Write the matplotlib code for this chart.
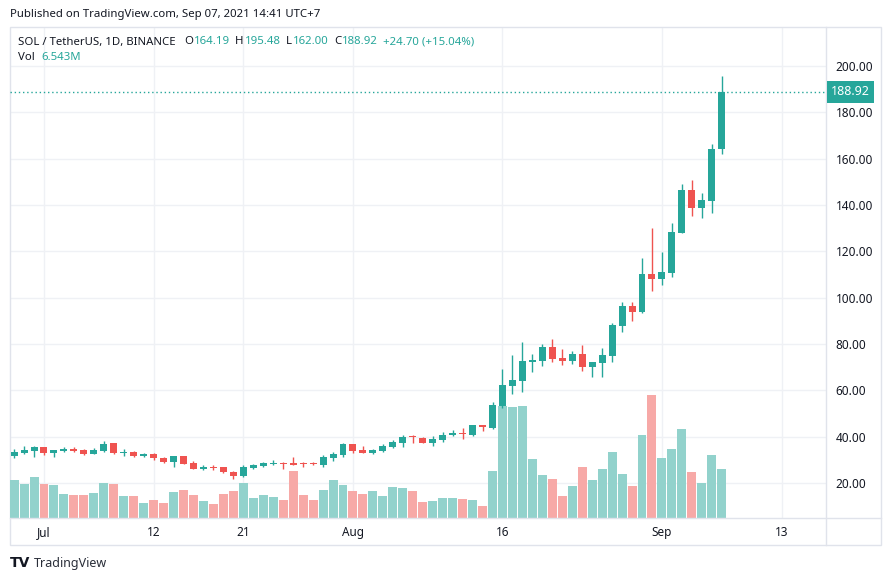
import numpy as np
import pandas as pd
import matplotlib
matplotlib.use("Agg")
import matplotlib.pyplot as plt
import matplotlib.dates as mdates
import matplotlib.transforms as mtransforms
from matplotlib.lines import Line2D
from matplotlib.patches import Rectangle

plt.rcParams['font.family'] = ['Noto Sans', 'DejaVu Sans']

# SOL / USDT daily candles, Jun 28 - Sep 07 2021
dates = pd.date_range("2021-06-28", "2021-09-07", freq="D")
opens = [31.75, 33.0, 33.9, 35.5, 32.9, 33.8, 34.6, 34.2, 32.6, 33.9,
         37.1, 33.1, 33.3, 31.6, 32.5, 30.7, 29.2, 31.6, 28.4, 26.0,
         26.9, 26.7, 24.8, 23.0, 26.6, 27.4, 28.2, 28.7, 28.7, 28.6,
         28.5, 27.7, 30.9, 32.0, 36.8, 34.2, 33.0, 33.9, 35.6, 37.3,
         39.95, 39.4, 37.3, 38.5, 40.5, 41.7, 40.7, 45.0, 43.8, 53.2,
         62.0, 64.1, 72.3, 72.8, 78.7, 73.9, 72.8, 75.6, 70.2, 71.9,
         74.9, 87.9, 96.4, 93.9, 110.2, 108.0, 110.6, 127.9, 146.5, 138.8,
         141.7, 164.19]
highs = [34.6, 35.9, 36.1, 35.6, 34.3, 35.3, 35.3, 34.5, 34.9, 38.1,
         37.4, 34.6, 33.9, 32.9, 32.8, 31.3, 31.7, 31.7, 29.4, 27.7,
         27.7, 26.8, 25.3, 27.7, 28.1, 29.2, 29.9, 28.8, 31.3, 29.2,
         29.2, 32.0, 33.3, 37.4, 36.9, 35.9, 34.6, 36.8, 38.5, 40.7,
         40.7, 39.7, 40.2, 41.8, 42.8, 43.6, 45.1, 45.1, 55.1, 69.2,
         75.2, 80.8, 75.6, 80.0, 82.1, 77.8, 76.9, 79.7, 72.4, 78.4,
         88.9, 98.1, 98.2, 117.1, 130.0, 119.7, 132.2, 149.0, 150.8, 145.2,
         166.3, 195.48]
lows = [30.9, 32.5, 31.3, 32.2, 31.3, 33.3, 33.3, 32.2, 32.5, 33.5,
        32.5, 31.6, 31.0, 31.3, 30.0, 28.7, 27.0, 28.0, 26.0, 25.6,
        25.6, 24.1, 21.7, 22.7, 26.0, 27.0, 27.7, 25.8, 27.7, 27.0,
        27.5, 27.0, 29.6, 31.3, 33.0, 33.0, 32.3, 33.2, 35.2, 35.6,
        37.3, 37.1, 35.9, 37.8, 40.2, 38.9, 40.4, 42.4, 43.3, 52.2,
        58.4, 59.4, 68.0, 70.6, 72.2, 70.9, 71.5, 68.5, 65.7, 65.9,
        72.3, 85.3, 90.0, 93.5, 103.0, 105.4, 109.0, 127.7, 135.2, 134.4,
        136.7, 162.00]
closes = [33.3, 34.2, 35.6, 33.0, 34.2, 34.6, 33.8, 32.6, 34.2, 36.8,
          32.9, 33.3, 31.75, 32.5, 30.6, 29.2, 31.6, 28.1, 26.1, 26.7,
          26.6, 24.5, 23.1, 26.7, 27.7, 28.7, 28.6, 28.2, 27.8, 28.3,
          28.2, 31.0, 32.6, 36.8, 33.9, 33.0, 34.2, 35.9, 37.7, 39.8,
          39.7, 37.3, 38.8, 40.7, 41.7, 41.1, 45.0, 44.0, 53.6, 62.3,
          64.4, 72.6, 73.0, 78.7, 73.5, 72.8, 75.6, 70.2, 72.2, 75.2,
          88.2, 96.4, 93.9, 110.2, 108.0, 111.1, 128.3, 146.5, 138.8, 142.1,
          164.22, 188.92]
# volume in millions
volumes = [5.06, 4.52, 5.47, 4.52, 4.39, 3.18, 3.05, 3.05, 3.32, 4.66,
           4.52, 2.91, 2.91, 1.97, 2.37, 1.97, 3.45, 3.72, 3.05, 2.24,
           1.84, 3.18, 3.58, 4.66, 2.64, 3.05, 2.78, 2.37, 6.27, 3.05,
           2.37, 3.72, 5.06, 4.39, 3.58, 3.18, 3.58, 2.91, 4.12, 3.99,
           3.58, 2.11, 2.24, 2.64, 2.64, 2.51, 2.37, 1.57, 6.27, 15.0,
           14.9, 15.0, 7.89, 5.73, 5.2, 2.91, 4.26, 6.81, 5.06, 6.54,
           8.83, 5.87, 4.26, 11.1, 16.5, 8.02, 9.23, 11.9, 6.14, 4.66,
           8.42, 6.543]

tick_dates = ["2021-07-01", "2021-07-12", "2021-07-21", "2021-08-01",
              "2021-08-16", "2021-09-01", "2021-09-13"]
tick_labels = ["Jul", "12", "21", "Aug", "16", "Sep", "13"]
price_ticks = [20, 40, 60, 80, 100, 120, 140, 160, 180, 200]

GREEN = "#26a69a"
RED = "#ef5350"
TEXT = "#131722"
LINE = "#e0e3eb"
FS = 8.2

W, H = 892, 581
def fx(px):
    return px / W
def fy(py):
    return 1 - py / H

fig = plt.figure(figsize=(W / 100, H / 100), dpi=100)
fig.patch.set_facecolor("white")

rect = [fx(10), fy(518), fx(826) - fx(10), fy(27) - fy(518)]
x = mdates.date2num(dates)
xlim = (x[0] - 0.41, x[0] + 81.46)
ylim = (4.83, 216.84)
xt = mdates.date2num(pd.to_datetime(tick_dates))

# grid layer (bottom)
axg = fig.add_axes(rect, zorder=0)
axg.set_xlim(xlim)
axg.set_ylim(ylim)
axg.set_xticks(xt)
axg.set_yticks(price_ticks)
axg.tick_params(length=0, labelbottom=False, labelleft=False)
axg.grid(True, color="#eff1f5", linewidth=1)
for s in axg.spines.values():
    s.set_visible(False)

# volume layer
axv = fig.add_axes(rect, zorder=1)
axv.patch.set_visible(False)
o = np.array(opens)
h = np.array(highs)
l = np.array(lows)
c = np.array(closes)
up = c >= o
cols = np.where(up, GREEN, RED)
vcols = np.where(up, "#92d2cc", "#f7a9a7")
axv.bar(x, volumes, width=0.9, color=vcols, linewidth=0)
axv.set_xlim(xlim)
axv.set_ylim(0, 66)
axv.axis("off")

# price layer (top)
axp = fig.add_axes(rect, zorder=2)
axp.patch.set_visible(False)
axp.vlines(x, l, h, colors=cols, linewidth=1.0, zorder=3)
bottoms = np.minimum(o, c)
heights = np.maximum(np.abs(c - o), 0.35)
axp.bar(x, heights, bottom=bottoms, width=0.7, color=cols, linewidth=0, zorder=4)
axp.set_xlim(xlim)
axp.set_ylim(ylim)
axp.set_xticks(xt)
axp.set_xticklabels(tick_labels)
axp.yaxis.tick_right()
axp.set_yticks(price_ticks)
axp.set_yticklabels([f"{v:.2f}" for v in price_ticks])
axp.tick_params(axis="x", length=0, pad=6, labelsize=8.5, labelcolor=TEXT)
axp.tick_params(axis="y", length=0, pad=7, labelsize=8.5, labelcolor=TEXT)
for s in axp.spines.values():
    s.set_visible(False)

# last price line and badge
last = closes[-1]
axp.axhline(last, color=GREEN, linewidth=1, linestyle=(0, (1, 2)), zorder=1)
trans = mtransforms.blended_transform_factory(axp.transAxes, axp.transData)
axp.text(1.0 + 5 / 816, last, f"{last:.2f}", transform=trans, ha="left", va="center",
         color="white", fontsize=9, fontweight="bold", clip_on=False,
         bbox=dict(boxstyle="square,pad=0.35", fc=GREEN, ec="none"))

# frame
fig.add_artist(Rectangle((fx(10), fy(545)), fx(881) - fx(10), fy(27) - fy(545),
                         transform=fig.transFigure, fill=False, ec=LINE, lw=1))
fig.add_artist(Line2D([fx(826), fx(826)], [fy(27), fy(545)], transform=fig.transFigure, color=LINE, lw=1))
fig.add_artist(Line2D([fx(10), fx(881)], [fy(518), fy(518)], transform=fig.transFigure, color=LINE, lw=1))

# header
fig.text(fx(10), fy(14), "Published on TradingView.com, Sep 07, 2021 14:41 UTC+7",
         fontsize=FS, color=TEXT, va="center", ha="left")

def chain(pieces, px, py):
    first = pieces[0]
    prev = fig.text(fx(px), fy(py), first[0], color=first[1], fontsize=FS, va="center", ha="left")
    for s, col, gap in pieces[1:]:
        prev = axp.annotate(s, xy=(1, 0.5), xycoords=prev, xytext=(gap, 0),
                            textcoords="offset points", color=col, fontsize=FS,
                            va="center", ha="left", annotation_clip=False)

chg = closes[-1] - closes[-2]
pct = chg / closes[-2] * 100
chain([("SOL / TetherUS, 1D, BINANCE", TEXT, 0),
       ("O", TEXT, 6), (f"{opens[-1]:.2f}", GREEN, 0.5),
       ("H", TEXT, 4), (f"{highs[-1]:.2f}", GREEN, 0.5),
       ("L", TEXT, 4), (f"{lows[-1]:.2f}", GREEN, 0.5),
       ("C", TEXT, 4), (f"{closes[-1]:.2f}", GREEN, 0.5),
       (f"{chg:+.2f} ({pct:+.2f}%)", GREEN, 4)], 18, 42)
chain([("Vol", TEXT, 0), (f"{volumes[-1]:.3f}M", GREEN, 5)], 18, 58)

# footer logo
fig.text(fx(10), fy(563), "TV", fontsize=10, fontweight="heavy", color=TEXT,
         va="center", ha="left", family="DejaVu Sans")
fig.text(fx(34), fy(563), "TradingView", fontsize=9, color="#2a2e39", va="center", ha="left")

fig.savefig("out.png", dpi=100)
